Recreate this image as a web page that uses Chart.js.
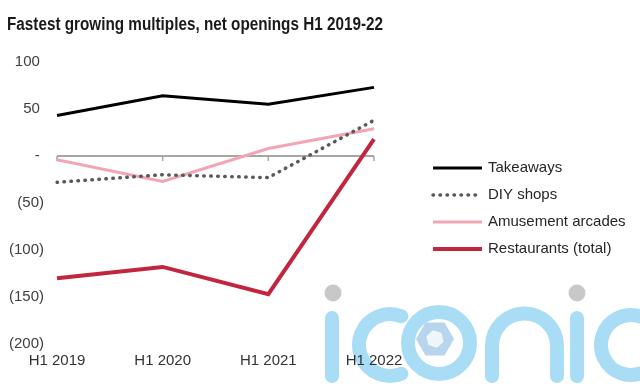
<!DOCTYPE html>
<html>
<head>
<meta charset="utf-8">
<script src="https://cdn.jsdelivr.net/npm/chart.js@4.4.1/dist/chart.umd.min.js"></script>
<style>
  html, body { margin: 0; padding: 0; background: #ffffff; }
  #wrap { width: 640px; height: 384px; position: relative; }
</style>
</head>
<body>
<div id="wrap"><canvas id="c" width="640" height="384"></canvas></div>
<script>
const titleText = 'Fastest growing multiples, net openings H1 2019-22';
const categories = ['H1 2019', 'H1 2020', 'H1 2021', 'H1 2022'];
const seriesNames = ['Takeaways', 'DIY shops', 'Amusement arcades', 'Restaurants (total)'];
const takeaways = [43, 64, 55, 73];
const diyShops = [-28, -20, -23, 38];
const amusementArcades = [-4, -27, 8, 29];
const restaurants = [-130, -118, -147, 18];
const yTickValues = [-200, -150, -100, -50, 0, 50, 100];
const yTickLabels = ['(200)', '(150)', '(100)', '(50)', '- ', '50 ', '100 '];

const FONT = "'Liberation Sans', Arial, sans-serif";

const titlePlugin = {
  id: 'condensedTitle',
  afterDraw(chart) {
    const ctx = chart.ctx;
    ctx.save();
    ctx.fillStyle = '#1A1A1A';
    ctx.font = 'bold 17.5px ' + FONT;
    ctx.textAlign = 'left';
    ctx.textBaseline = 'middle';
    ctx.fillText(titleText, 7, 25.5, 376);
    ctx.restore();
  }
};

const logoPlugin = {
  id: 'logo',
  beforeDraw(chart) {
    const ctx = chart.ctx;
    ctx.save();
    ctx.lineCap = 'round';
    ctx.strokeStyle = '#A9DDF5';
    ctx.lineWidth = 14;
    ctx.beginPath(); ctx.moveTo(332, 318); ctx.lineTo(332, 376); ctx.stroke();
    ctx.beginPath(); ctx.arc(390, 345, 31, -Math.PI * 0.38, Math.PI * 0.38, true); ctx.stroke();
    ctx.beginPath(); ctx.arc(439, 343, 31, 0, Math.PI * 2); ctx.stroke();
    ctx.beginPath(); ctx.moveTo(492, 376); ctx.lineTo(492, 346);
    ctx.arc(524.5, 346, 32.5, Math.PI, 0, false); ctx.lineTo(557, 376); ctx.stroke();
    ctx.beginPath(); ctx.moveTo(577, 318); ctx.lineTo(577, 376); ctx.stroke();
    ctx.beginPath(); ctx.arc(631, 345, 30, -Math.PI * 0.4, Math.PI * 0.4, true); ctx.stroke();
    ctx.fillStyle = '#C8C8C8';
    ctx.beginPath(); ctx.arc(333, 293, 8.5, 0, Math.PI * 2); ctx.fill();
    ctx.beginPath(); ctx.arc(577, 293, 8.5, 0, Math.PI * 2); ctx.fill();
    const hx = 435, hy = 339;
    ctx.fillStyle = '#B7D5EC';
    ctx.beginPath();
    for (let k = 0; k < 6; k++) {
      const a = k * Math.PI / 3;
      const px = hx + 19 * Math.cos(a), py = hy + 19 * Math.sin(a);
      if (k === 0) ctx.moveTo(px, py); else ctx.lineTo(px, py);
    }
    ctx.closePath(); ctx.fill();
    ctx.fillStyle = '#EEF6FC';
    ctx.beginPath();
    for (let k = 0; k < 6; k++) {
      const a = k * Math.PI / 3 + 0.3;
      const px = hx + 9 * Math.cos(a), py = hy + 9 * Math.sin(a);
      if (k === 0) ctx.moveTo(px, py); else ctx.lineTo(px, py);
    }
    ctx.closePath(); ctx.fill();
    ctx.restore();
  }
};

const zeroTicksPlugin = {
  id: 'zeroTicks',
  beforeDatasetsDraw(chart) {
    const ctx = chart.ctx;
    const x = chart.scales.x, y = chart.scales.y;
    const y0 = y.getPixelForValue(0);
    ctx.save();
    ctx.strokeStyle = '#A6A6A6';
    ctx.lineWidth = 1.5;
    categories.forEach((c, i) => {
      const px = x.getPixelForValue(i);
      ctx.beginPath(); ctx.moveTo(px, y0); ctx.lineTo(px, y0 + 5); ctx.stroke();
    });
    ctx.restore();
  }
};

const legendPlugin = {
  id: 'customLegend',
  afterDraw(chart) {
    const ctx = chart.ctx;
    const x0 = 433, x1 = 482, tx = 488, top = 168, step = 27;
    ctx.save();
    chart.data.datasets.forEach((ds, i) => {
      const yy = top + i * step;
      ctx.beginPath();
      ctx.strokeStyle = ds.borderColor;
      ctx.lineWidth = ds.borderWidth;
      ctx.lineCap = ds.borderCapStyle || 'butt';
      ctx.setLineDash(ds.borderDash || []);
      ctx.moveTo(x0, yy); ctx.lineTo(x1, yy); ctx.stroke();
      ctx.setLineDash([]);
      ctx.fillStyle = '#262626';
      ctx.font = '15px ' + FONT;
      ctx.textAlign = 'left';
      ctx.textBaseline = 'middle';
      ctx.fillText(ds.label, tx, yy);
    });
    ctx.restore();
  }
};

new Chart(document.getElementById('c'), {
  type: 'line',
  data: {
    labels: categories,
    datasets: [
      { label: seriesNames[0], data: takeaways, borderColor: '#000000', borderWidth: 3, order: 1 },
      { label: seriesNames[1], data: diyShops, borderColor: '#595959', borderWidth: 3.5,
        borderDash: [0.5, 6.5], borderCapStyle: 'round', order: 2 },
      { label: seriesNames[2], data: amusementArcades, borderColor: '#F2A5B4', borderWidth: 3, order: 3 },
      { label: seriesNames[3], data: restaurants, borderColor: '#C2253E', borderWidth: 4, order: 0 }
    ]
  },
  options: {
    responsive: false,
    animation: false,
    devicePixelRatio: 1,
    layout: { padding: { left: 7, right: 0, top: 62, bottom: 6 } },
    elements: {
      point: { radius: 0, hoverRadius: 0 },
      line: { tension: 0, borderJoinStyle: 'miter' }
    },
    plugins: {
      legend: { display: false },
      tooltip: { enabled: false },
      title: { display: false }
    },
    scales: {
      x: {
        type: 'category',
        offset: false,
        grid: { display: false, drawTicks: false },
        border: { display: false },
        ticks: { color: '#333333', font: { family: FONT, size: 15 }, padding: 8, maxRotation: 0, autoSkip: false }
      },
      y: {
        min: -200, max: 100,
        afterBuildTicks(scale) { scale.ticks = yTickValues.map(v => ({ value: v })); },
        afterFit(scale) { scale.width = 50; },
        grid: {
          drawTicks: false,
          color: ctx => (ctx.tick && ctx.tick.value === 0) ? '#A6A6A6' : 'rgba(0,0,0,0)',
          lineWidth: ctx => (ctx.tick && ctx.tick.value === 0) ? 2 : 0
        },
        border: { display: false },
        ticks: {
          color: '#404040',
          font: { family: FONT, size: 15 },
          padding: 13,
          callback: (v) => yTickLabels[yTickValues.indexOf(v)]
        }
      },
      yRight: {
        position: 'right',
        min: -200, max: 100,
        afterFit(scale) { scale.width = 266; },
        grid: { display: false, drawTicks: false },
        border: { display: false },
        ticks: { display: false }
      }
    }
  },
  plugins: [logoPlugin, zeroTicksPlugin, legendPlugin, titlePlugin]
});
</script>
</body>
</html>
